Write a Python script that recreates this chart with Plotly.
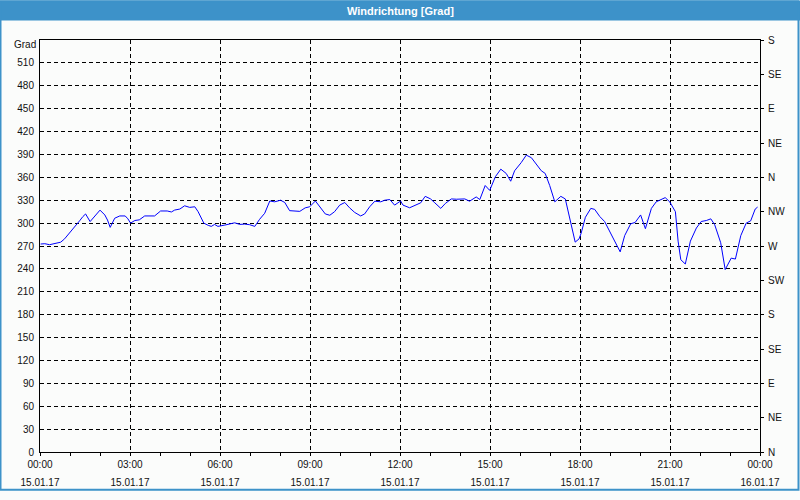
import plotly.graph_objects as go

# ---- data ----
hours = [0.02, 0.16, 0.32, 0.54, 0.69, 0.82, 0.99, 1.16, 1.32, 1.43, 1.52, 1.67, 1.82, 2.0,
         2.16, 2.25, 2.34, 2.49, 2.66, 2.84, 2.93, 3.02, 3.16, 3.31, 3.49, 3.82, 4.02, 4.24,
         4.38, 4.49, 4.66, 4.82, 4.99, 5.16, 5.27, 5.46, 5.61, 5.71, 5.82, 5.93, 6.16, 6.32,
         6.49, 6.66, 6.82, 6.99, 7.16, 7.32, 7.49, 7.66, 7.82, 8.02, 8.16, 8.32, 8.66, 8.84,
         8.99, 9.18, 9.32, 9.51, 9.66, 9.82, 9.99, 10.16, 10.32, 10.49, 10.69, 10.82, 10.99,
         11.16, 11.36, 11.49, 11.66, 11.82, 12.02, 12.1, 12.32, 12.49, 12.69, 12.84, 13.02,
         13.16, 13.36, 13.51, 13.71, 13.88, 14.16, 14.32, 14.54, 14.66, 14.84, 14.99, 15.18,
         15.36, 15.54, 15.69, 15.82, 16.04, 16.21, 16.38, 16.54, 16.71, 16.84, 16.99, 17.16,
         17.36, 17.51, 17.66, 17.84, 17.97, 18.04, 18.18, 18.36, 18.49, 18.66, 18.82, 18.99,
         19.18, 19.34, 19.49, 19.69, 19.84, 20.02, 20.18, 20.38, 20.54, 20.71, 20.84, 20.99,
         21.18, 21.27, 21.36, 21.51, 21.68, 21.88, 22.04, 22.21, 22.36, 22.49, 22.69, 22.84,
         23.04, 23.18, 23.36, 23.54, 23.69, 23.84, 23.92]
direction = [272.6, 273, 271.7, 273.4, 275, 279.4, 287, 295.7, 303, 308.6, 312, 302, 309.4, 317,
             310.7, 304, 294.4, 306.4, 309.4, 309.4, 305.6, 300, 303.4, 304.3, 309.4, 309.4, 315.9, 315.9,
             314.6, 317.1, 318.4, 322.7, 320.6, 321.4, 315, 300, 297, 295.7, 298.3, 295.7, 297.4, 298.7,
             300.4, 298.3, 298.7, 297.9, 295.7, 305, 312.9, 329, 327.9, 330, 327, 316.3, 315.4, 320,
             321.4, 329, 321.4, 312, 310.3, 315, 323.6, 327, 320, 314, 309.4, 312, 321.4,
             328.7, 327.9, 330, 330.9, 323.6, 329, 323.6, 320.1, 322.7, 326.6, 335.1, 331.7,
             326.6, 319.3, 325.7, 331.7, 331.3, 331.7, 328.7, 334.3, 330.9, 349.3, 342.9, 360.9,
             370.7, 365.1, 354.9, 368.6, 379.3, 389.1, 385.7, 378, 368.6, 365.1, 349.3, 327.9,
             335.1, 331.7, 304.3, 275.1, 279.4, 287, 307.7, 319.3, 318, 308.6, 302.1, 289.3,
             274.3, 262.3, 283.7, 299.1, 300.9, 310.7, 292.7, 319.3, 327.9, 331.3, 333.4, 327.9,
             315, 276.4, 252, 246.4, 276.4, 293.6, 302.1, 303.4, 305.6, 297.9, 274.3, 239.1,
             254.1, 252.9, 283.7, 300, 303, 318.4, 321]

x_tickvals = [0, 3, 6, 9, 12, 15, 18, 21, 24]
x_times = ["00:00", "03:00", "06:00", "09:00", "12:00", "15:00", "18:00", "21:00", "00:00"]
x_dates = ["15.01.17"] * 8 + ["16.01.17"]
y_tickvals = list(range(0, 511, 30))
y_ticktext = [str(v) for v in y_tickvals]
compass_vals = list(range(0, 541, 45))
compass_text = ["N", "NE", "E", "SE", "S", "SW", "W", "NW", "N", "NE", "E", "SE", "S"]

# ---- layout geometry (pixels) ----
W, H = 800, 500
L, R, T, B = 40, 40, 40, 40
pw, ph = W - L - R, H - T - B


def px_x(x):
    return (x - L) / pw


def px_y(y):
    return (H - B - y) / ph


FONT = "Liberation Sans"
BAR = "#3D92C9"
BG = "#FBFCFB"
GRID = dict(showgrid=True, gridcolor="black", gridwidth=1, griddash="4px,3px")

fig = go.Figure()
fig.add_trace(go.Scatter(x=hours, y=direction, mode="lines",
                         line=dict(color="#0000FF", width=1),
                         showlegend=False, hoverinfo="skip"))
fig.add_trace(go.Scatter(x=[None], y=[None], xaxis="x2", yaxis="y2",
                         showlegend=False, hoverinfo="skip"))

fig.update_layout(
    width=W, height=H,
    margin=dict(l=L, r=R, t=T, b=B),
    paper_bgcolor=BG, plot_bgcolor=BG,
    font=dict(family=FONT, size=10, color="#111111"),
    xaxis=dict(range=[0, 24], tickvals=x_tickvals, ticktext=x_times,
               showline=True, linecolor="black", linewidth=1, mirror=True,
               zeroline=False, ticks="outside", ticklen=3, tickcolor="black",
               minor=dict(dtick=1, tick0=0, ticks="outside", ticklen=3,
                          tickcolor="black", showgrid=False),
               ticklabelstandoff=0, **GRID),
    xaxis2=dict(range=[0, 24], overlaying="x", side="bottom", anchor="y",
                tickvals=x_tickvals, ticktext=x_dates, showgrid=False,
                showline=False, zeroline=False, ticks="", ticklabelstandoff=23),
    yaxis=dict(range=[0, 540], tickvals=y_tickvals, ticktext=y_ticktext,
               showline=True, linecolor="black", linewidth=1, mirror=True,
               zeroline=False, ticks="", ticklabelstandoff=3, **GRID),
    yaxis2=dict(range=[0, 540], overlaying="y", side="right", anchor="x",
                tickvals=compass_vals, ticktext=compass_text,
                showline=True, linecolor="black", linewidth=1,
                ticks="outside", ticklen=3, tickcolor="black",
                showgrid=False, zeroline=False, ticklabelstandoff=2),
    shapes=[
        dict(type="rect", xref="paper", yref="paper",
             x0=px_x(0), x1=px_x(800), y0=px_y(20), y1=px_y(0),
             fillcolor=BAR, line=dict(width=0), layer="below"),
        dict(type="rect", xref="paper", yref="paper",
             x0=px_x(0.5), x1=px_x(798.5), y0=px_y(498.5), y1=px_y(0.5),
             fillcolor="rgba(0,0,0,0)", line=dict(color=BAR, width=2), layer="below"),
    ],
    annotations=[
        dict(text="<b>Windrichtung [Grad]</b>", xref="paper", yref="paper",
             x=px_x(400), y=px_y(10), xanchor="center", yanchor="middle",
             showarrow=False, font=dict(family=FONT, size=11, color="white")),
        dict(text="Grad", xref="paper", yref="paper",
             x=px_x(38), y=px_y(45), xanchor="right", yanchor="middle",
             showarrow=False, font=dict(family=FONT, size=10, color="#111111")),
    ],
)

fig.write_html("out.html")
